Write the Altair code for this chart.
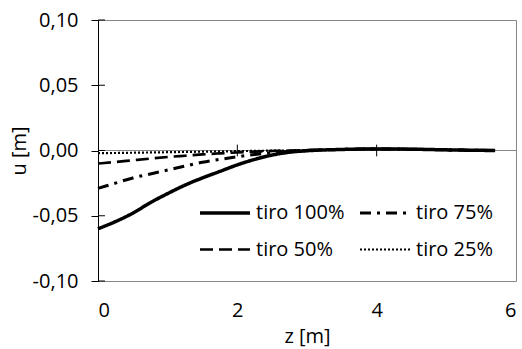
import altair as alt
import pandas as pd

z = [0, 0.25, 0.5, 0.75, 1.0, 1.25, 1.5, 1.75, 2.0, 2.25, 2.5, 2.75, 3.0, 3.5, 4.0, 4.5, 5.0, 5.7]
u100 = [-0.060, -0.0545, -0.048, -0.040, -0.033, -0.0265, -0.021, -0.016, -0.011, -0.0068, -0.0035, -0.0013, -0.0002, 0.0008, 0.0012, 0.001, 0.0005, 0.0]
u75 = [-0.029, -0.025, -0.021, -0.018, -0.015, -0.012, -0.009, -0.0068, -0.0048, -0.003, -0.0017, -0.0007, 0.0, 0.0008, 0.0012, 0.001, 0.0005, 0.0]
u50 = [-0.010, -0.0088, -0.0075, -0.0062, -0.005, -0.004, -0.003, -0.0022, -0.0015, -0.0009, -0.0004, 0.0, 0.0003, 0.0008, 0.0012, 0.001, 0.0005, 0.0]
u25 = [-0.002, -0.0019, -0.0017, -0.0015, -0.0013, -0.0011, -0.0009, -0.0007, -0.0005, -0.0003, -0.0001, 0.0, 0.0002, 0.0008, 0.0012, 0.001, 0.0005, 0.0]
series = ["tiro 100%", "tiro 75%", "tiro 50%", "tiro 25%"]
x_ticks = [0, 2, 4, 6]
y_ticks = [-0.10, -0.05, 0.0, 0.05, 0.10]

rows = []
for name, vals in zip(series, [u100, u75, u50, u25]):
    for zi, ui in zip(z, vals):
        rows.append({"z": zi, "u": ui, "serie": name})
df = pd.DataFrame(rows)

FONT = "Open Sans"
xs = alt.Scale(domain=[0, 6], nice=False, zero=False)
ys = alt.Scale(domain=[-0.10, 0.10], nice=False)

def make_legend():
    return alt.Legend(title=None, orient="none", legendX=100, legendY=166, direction="horizontal",
                      columns=2, symbolType="stroke", symbolSize=2500,
                      symbolStrokeColor="black", labelFont=FONT,
                      labelFontSize=20, labelColor="black",
                      columnPadding=8, rowPadding=-6, labelOffset=4)

lines = alt.Chart(df).mark_line(color="black", interpolate="monotone").encode(
    x=alt.X("z:Q", scale=xs, axis=alt.Axis(values=x_ticks, title="z [m]", domain=False, ticks=False,
                                           grid=False, labelPadding=19, titlePadding=6, format="d",
                                           labelFont=FONT, titleFont=FONT, labelFontSize=20,
                                           titleFontSize=20, titleFontWeight="normal",
                                           labelColor="black", titleColor="black")),
    y=alt.Y("u:Q", scale=ys, axis=alt.Axis(values=y_ticks, title="u [m]", grid=False,
                                           labelExpr="replace(replace(format(datum.value, '.2f'), '.', ','), '\u2212', '-')",
                                           domainColor="black", tickColor="black", tickSize=7,
                                           labelPadding=13, titlePadding=3,
                                           labelFont=FONT, titleFont=FONT, labelFontSize=20,
                                           titleFontSize=20, titleFontWeight="normal",
                                           labelColor="black", titleColor="black")),
    strokeDash=alt.StrokeDash("serie:N", scale=alt.Scale(domain=series,
                              range=[[1, 0], [11, 6, 3, 6], [13, 6], [2, 2]]),
                              legend=make_legend()),
    strokeWidth=alt.StrokeWidth("serie:N", scale=alt.Scale(domain=series, range=[3.5, 2.2, 2.2, 1.6]),
                                legend=make_legend()),
    order=alt.Order("z:Q"),
)

zero = alt.Chart(pd.DataFrame({"y": [0.0]})).mark_rule(color="#868686", strokeWidth=1).encode(
    y=alt.Y("y:Q", scale=ys)
)

xt = alt.Chart(pd.DataFrame({"x": x_ticks[1:3]})).mark_rule(color="black", strokeWidth=1).encode(
    x=alt.X("x:Q", scale=xs), y=alt.datum(-0.0045), y2=alt.datum(0.0045)
)

yt = alt.Chart(pd.DataFrame({"y": y_ticks})).mark_rule(color="black", strokeWidth=1).encode(
    y=alt.Y("y:Q", scale=ys), x=alt.datum(0), x2=alt.datum(0.1)
)

chart = alt.layer(zero, xt, yt, lines).properties(
    width=418, height=261,
    autosize=alt.AutoSizeParams(type="none"),
    padding={"left": 98, "top": 20, "right": 6, "bottom": 68},
    background="white",
).configure_view(stroke="#868686", strokeWidth=1)

chart.save("out.html", embed_options={"renderer": "svg", "actions": False})
